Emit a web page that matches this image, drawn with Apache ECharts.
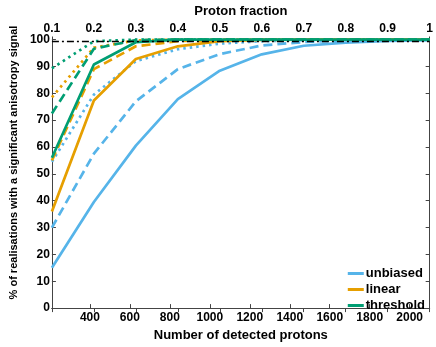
<!DOCTYPE html>
<html>
<head>
<meta charset="utf-8">
<script src="https://cdn.jsdelivr.net/npm/echarts@6/dist/echarts.min.js"></script>
<style>html,body{margin:0;padding:0;background:#fff;}#c{width:436px;height:347px;}</style>
</head>
<body>
<div id="c"></div>
<script>
const protons = [210, 420, 630, 840, 1050, 1260, 1470, 1680, 1890, 2100];
const bottomTicks = [400, 600, 800, 1000, 1200, 1400, 1600, 1800, 2000];
const topTickLabels = ['0.1','0.2','0.3','0.4','0.5','0.6','0.7','0.8','0.9','1'];
const yTicks = [0, 10, 20, 30, 40, 50, 60, 70, 80, 90, 100];

const unbiasedSolid  = [15, 39.5, 60.5, 77.8, 88.4, 94.5, 97.7, 98.9, 99.5, 99.8];
const unbiasedDashed = [30, 57.5, 77, 89, 94.6, 97.8, 99.1, 99.6, 99.8, 99.9];
const unbiasedDotted = [54.5, 79.5, 92, 96.4, 98.5, 99.4, 99.8, 100, 100, 100];
const linearSolid    = [36, 77.3, 92.8, 97.5, 99.4, 99.9, 100, 100, 100, 100];
const linearDashed   = [55, 89, 97.5, 99.4, 99.9, 100, 100, 100, 100, 100];
const linearDotted   = [78.5, 97, 99.7, 100, 100, 100, 100, 100, 100, 100];
const threshSolid    = [56, 90.7, 99, 100, 100, 100, 100, 100, 100, 100];
const threshDashed   = [72.5, 96.6, 99.8, 100, 100, 100, 100, 100, 100, 100];
const threshDotted   = [89.3, 99.4, 100, 100, 100, 100, 100, 100, 100, 100];
const refLevel = 99.3;

const BLUE = '#56B4E9', ORANGE = '#E69F00', GREEN = '#009E73';
const FONT = "'Liberation Sans', Arial, Helvetica, sans-serif";
const AX = '#444';
const DASH = [9, 5], DOT = [2.5, 4];

function pts(arr) { return protons.map((p, i) => [p, arr[i]]); }
function line(name, arr, color, type) {
  return {
    name: name, type: 'line', data: pts(arr), symbol: 'none', silent: true,
    lineStyle: { color: color, width: 2.7, type: type }, itemStyle: { color: color }
  };
}

const chart = echarts.init(document.getElementById('c'), null, { renderer: 'canvas' });
chart.setOption({
  animation: false,
  textStyle: { fontFamily: FONT },
  grid: { left: 42, right: 5, top: 29, bottom: 30 },
  legend: {
    data: ['unbiased', 'linear', 'threshold'],
    orient: 'vertical', right: 6, top: 262,
    itemWidth: 16, itemHeight: 3, itemGap: 3,
    icon: 'rect',
    textStyle: { fontFamily: FONT, fontWeight: 'bold', fontSize: 13, color: '#000', padding: [0, 0, 0, -3] }
  },
  xAxis: [{
    type: 'value', position: 'bottom', min: 210, max: 2100,
    name: 'Number of detected protons', nameLocation: 'middle', nameGap: 17,
    nameTextStyle: { fontFamily: FONT, fontWeight: 'bold', fontSize: 13, color: '#000' },
    axisLine: { show: true, lineStyle: { color: AX, width: 1 } },
    axisTick: { show: true, inside: true, length: 4, customValues: bottomTicks, lineStyle: { color: AX } },
    axisLabel: { customValues: bottomTicks, margin: 4, fontFamily: FONT, fontWeight: 'bold', fontSize: 12, color: '#000',
      formatter: function (v) { return String(v); } },
    splitLine: { show: false }
  }, {
    type: 'value', position: 'top', min: 210, max: 2100,
    name: 'Proton fraction', nameLocation: 'middle', nameGap: 15,
    nameTextStyle: { fontFamily: FONT, fontWeight: 'bold', fontSize: 13, color: '#000' },
    axisLine: { show: true, lineStyle: { color: AX, width: 1 } },
    axisTick: { show: true, inside: true, length: 4, customValues: protons, lineStyle: { color: AX } },
    axisLabel: {
      customValues: protons, margin: 2, fontFamily: FONT, fontWeight: 'bold', fontSize: 12, color: '#000',
      formatter: function (v) { return topTickLabels[protons.indexOf(v)]; }
    },
    splitLine: { show: false }
  }],
  yAxis: [{
    type: 'value', position: 'left', min: 0, max: 101,
    name: '% of realisations with a significant anisotropy signal', nameLocation: 'middle', nameGap: 27,
    nameTextStyle: { fontFamily: FONT, fontWeight: 'bold', fontSize: 11, color: '#000', padding: [0, 0, 0, 20] },
    axisLine: { show: true, lineStyle: { color: AX, width: 1 } },
    axisTick: { show: true, inside: true, length: 4, customValues: yTicks, lineStyle: { color: AX } },
    axisLabel: { customValues: yTicks, margin: 2, fontFamily: FONT, fontWeight: 'bold', fontSize: 12, color: '#000' },
    splitLine: { show: false }
  }, {
    type: 'value', position: 'right', min: 0, max: 101,
    axisLine: { show: true, lineStyle: { color: AX, width: 1 } },
    axisTick: { show: true, inside: true, length: 4, customValues: yTicks, lineStyle: { color: AX } },
    axisLabel: { show: false },
    splitLine: { show: false }
  }],
  series: [
    line('unbiased', unbiasedSolid, BLUE, 'solid'),
    line('unbiased-dashed', unbiasedDashed, BLUE, DASH),
    line('unbiased-dotted', unbiasedDotted, BLUE, DOT),
    line('linear', linearSolid, ORANGE, 'solid'),
    line('linear-dashed', linearDashed, ORANGE, DASH),
    line('linear-dotted', linearDotted, ORANGE, DOT),
    line('threshold', threshSolid, GREEN, 'solid'),
    line('threshold-dashed', threshDashed, GREEN, DASH),
    line('threshold-dotted', threshDotted, GREEN, DOT),
    {
      name: 'reference', type: 'line', symbol: 'none', silent: true,
      data: [[210, refLevel], [2100, refLevel]],
      lineStyle: { color: '#000', width: 1.5, type: [7, 3, 2, 3] }
    }
  ]
});
</script>
</body>
</html>
